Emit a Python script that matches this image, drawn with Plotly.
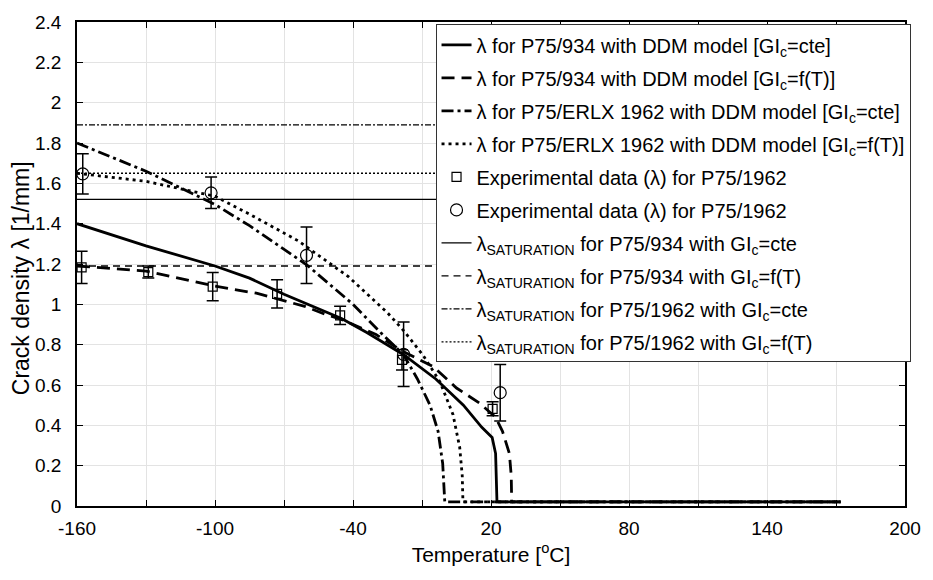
import plotly.graph_objects as go

# ---------------- data ----------------
x_934_cte = [-160, -130, -100, -85, -70, -45, -34, -18, -4, 8, 16, 20.5, 22, 22.6, 172]
y_934_cte = [1.40, 1.29, 1.19, 1.13, 1.05, 0.93, 0.86, 0.75, 0.63, 0.50, 0.39, 0.34, 0.26, 0.02, 0.02]

x_934_fT = [-160, -130, -100, -82, -61, -52, -45, -30, -18, -5, 5, 15, 22, 25, 28, 28.8, 29, 172]
y_934_fT = [1.19, 1.165, 1.09, 1.055, 0.99, 0.95, 0.925, 0.85, 0.765, 0.69, 0.585, 0.51, 0.44, 0.37, 0.26, 0.15, 0.02, 0.02]

x_1962_cte = [-160, -130, -100, -85, -60, -40, -28, -18, -12, -6.5, -3, -1, -0.1, 172]
y_1962_cte = [1.80, 1.66, 1.495, 1.39, 1.195, 1.00, 0.86, 0.75, 0.63, 0.50, 0.37, 0.21, 0.02, 0.02]

x_1962_fT = [-160, -130, -100, -85, -64, -42, -25, -18, -9.4, -2.2, 3.5, 6.4, 7.5, 7.8, 172]
y_1962_fT = [1.65, 1.61, 1.536, 1.447, 1.316, 1.137, 0.958, 0.87, 0.745, 0.616, 0.453, 0.29, 0.15, 0.02, 0.02]

exp_sq_x = [-158, -129, -101, -73, -45.6, -18.7, 20.7]
exp_sq_y = [1.183, 1.160, 1.088, 1.052, 0.945, 0.725, 0.482]
exp_sq_err = [0.08, 0.03, 0.07, 0.07, 0.045, 0.05, 0.035]

exp_ci_x = [-157.5, -101.7, -60.2, -18, 24]
exp_ci_y = [1.647, 1.553, 1.243, 0.752, 0.562]
exp_ci_err = [0.10, 0.078, 0.14, 0.16, 0.14]

sat_range = [-160, 200]
sat_934_cte = 1.52
sat_934_fT = 1.19
sat_1962_cte = 1.89
sat_1962_fT = 1.65

x_tickvals = [-160, -130, -100, -70, -40, -10, 20, 50, 80, 110, 140, 170, 200]
x_ticktext = ["-160", "", "-100", "", "-40", "", "20", "", "80", "", "140", "", "200"]

# ---------------- figure ----------------
fig = go.Figure()
lw = 2.8

def add_line(x, y, name, dash, width, g):
    fig.add_trace(go.Scatter(x=x, y=y, mode="lines", name=name, legendgroup=g,
                             line=dict(color="black", width=width, dash=dash)))

add_line(x_934_cte, y_934_cte, "λ for P75/934 with DDM model [GI<sub>c</sub>=cte]", "solid", lw, "a")
add_line(x_934_fT, y_934_fT, "λ for P75/934 with DDM model [GI<sub>c</sub>=f(T)]", "13px,7px", lw, "b")
add_line(x_1962_cte, y_1962_cte, "λ for P75/ERLX 1962 with DDM model [GI<sub>c</sub>=cte]", "12px,4px,3px,4px", lw, "c")
add_line(x_1962_fT, y_1962_fT, "λ for P75/ERLX 1962 with DDM model [GI<sub>c</sub>=f(T)]", "3px,4px", lw, "d")

fig.add_trace(go.Scatter(x=exp_sq_x, y=exp_sq_y, mode="markers", name="Experimental data (λ) for P75/1962",
                         legendgroup="e",
                         marker=dict(symbol="square-open", size=9, color="black", line=dict(width=1.2)),
                         error_y=dict(type="data", array=exp_sq_err, visible=True, color="black",
                                      thickness=1.5, width=6)))
fig.add_trace(go.Scatter(x=exp_ci_x, y=exp_ci_y, mode="markers", name="Experimental data (λ) for P75/1962",
                         legendgroup="f",
                         marker=dict(symbol="circle-open", size=12, color="black", line=dict(width=1.2)),
                         error_y=dict(type="data", array=exp_ci_err, visible=True, color="black",
                                      thickness=1.5, width=6)))

add_line(sat_range, [sat_934_cte] * 2, "λ<sub>SATURATION</sub> for P75/934 with GI<sub>c</sub>=cte", "solid", 1.3, "g")
add_line(sat_range, [sat_934_fT] * 2, "λ<sub>SATURATION</sub> for P75/934 with GI<sub>c</sub>=f(T)", "7px,5px", 1.3, "h")
add_line(sat_range, [sat_1962_cte] * 2, "λ<sub>SATURATION</sub> for P75/1962 with GI<sub>c</sub>=cte", "6px,2px,2px,2px", 1.3, "i")
add_line(sat_range, [sat_1962_fT] * 2, "λ<sub>SATURATION</sub> for P75/1962 with GI<sub>c</sub>=f(T)", "2px,2px", 1.3, "j")

font_family = "Arial, Liberation Sans, sans-serif"
fig.update_layout(
    width=933, height=580,
    margin=dict(l=77, r=20, t=15, b=74),
    paper_bgcolor="white", plot_bgcolor="white",
    font=dict(family=font_family, color="black", size=18),
    showlegend=True,
    legend=dict(x=0.433, xanchor="left", y=0.995, yanchor="top",
                bgcolor="white", bordercolor="#333333", borderwidth=1,
                font=dict(size=20, family=font_family, color="black"),
                tracegroupgap=4, itemwidth=30),
    xaxis=dict(range=[-160, 200], tickmode="array", tickvals=x_tickvals, ticktext=x_ticktext,
               showgrid=True, gridcolor="#e3e3e3", gridwidth=1,
               ticks="inside", ticklen=6, tickcolor="black", tickwidth=1.2,
               showline=True, linecolor="black", linewidth=1.5, mirror="ticks",
               zeroline=False, tickfont=dict(size=19), ticklabelstandoff=4,
               title=dict(text="Temperature [<sup>o</sup>C]", font=dict(size=21), standoff=10)),
    yaxis=dict(range=[0, 2.4], dtick=0.2, tick0=0,
               showgrid=True, gridcolor="#e3e3e3", gridwidth=1,
               ticks="inside", ticklen=6, tickcolor="black", tickwidth=1.2,
               showline=True, linecolor="black", linewidth=1.5, mirror="ticks",
               zeroline=False, tickfont=dict(size=19), ticklabelstandoff=10),
    annotations=[dict(text="Crack density λ [1/mm]", textangle=-90, xref="paper", yref="paper",
                      x=-0.068, y=0.47, xanchor="center", yanchor="middle", showarrow=False,
                      font=dict(size=23, family=font_family, color="black"))],
)

fig.write_html("out.html")
